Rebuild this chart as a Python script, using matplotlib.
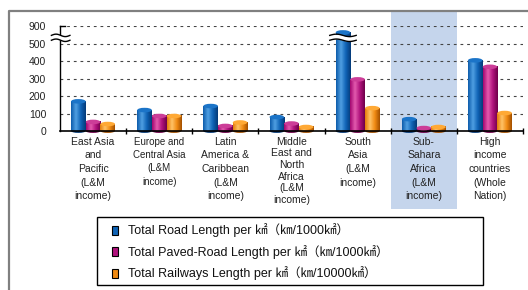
import numpy as np
import matplotlib
matplotlib.use("Agg")
import matplotlib.pyplot as plt
from matplotlib.patches import Rectangle, Ellipse
from matplotlib.colors import LinearSegmentedColormap

regions = ["East Asia\nand\nPacific\n(L&M\nincome)",
           "Europe and\nCentral Asia\n(L&M\nincome)",
           "Latin\nAmerica &\nCaribbean\n(L&M\nincome)",
           "Middle\nEast and\nNorth\nAfrica\n(L&M\nincome)",
           "South\nAsia\n(L&M\nincome)",
           "Sub-\nSahara\nAfrica\n(L&M\nincome)",
           "High\nincome\ncountries\n(Whole\nNation)"]
road = [170, 120, 143, 80, 760, 68, 405]
paved = [52, 86, 29, 43, 296, 17, 368]
rail = [40, 86, 49, 23, 131, 23, 103]
series_labels = ["Total Road Length per ㎢（㎞/1000㎢）",
                 "Total Paved-Road Length per ㎢（㎞/1000㎢）",
                 "Total Railways Length per ㎢（㎞/10000㎢）"]
ytick_vals = [0, 100, 200, 300, 400, 500, 900]

# colours: left, highlight, mid, right(dark), top
palettes = [
    ["#0d5cab", "#4f9fe2", "#0f63b5", "#053a78", "#1b74c8"],
    ["#a3066f", "#e35aae", "#b0127c", "#6e0049", "#cc3d98"],
    ["#e57c0a", "#ffc266", "#f08a12", "#a35000", "#ffa935"],
]

FONT = ["Liberation Sans", "Noto Sans CJK JP", "DejaVu Sans"]
plt.rcParams["font.family"] = FONT


def squash(v):
    # broken axis: 0-500 linear, 500-900 squeezed into one tick step
    return v if v <= 500 else 500 + (v - 500) / 4.0


def cylinder(ax, x, w, h, pal):
    cmap = LinearSegmentedColormap.from_list("c", [pal[0], pal[1], pal[2], pal[3]])
    grad = np.linspace(0, 1, 64).reshape(1, -1)
    ax.imshow(grad, cmap=cmap, extent=(x - w / 2, x + w / 2, 0, h),
              aspect="auto", zorder=2, interpolation="bilinear")
    ax.add_patch(Ellipse((x, 0), w, 22, facecolor=pal[3], edgecolor="none",
                         zorder=1.9, clip_on=False))
    ax.add_patch(Ellipse((x, h), w, 26, facecolor=pal[4], edgecolor="none", zorder=3))


def wave(ax, x0, x1, y0, amp=8):
    xs = np.linspace(x0, x1, 40)
    t = np.linspace(0, 2 * np.pi, 40)
    return xs, y0 + amp * np.sin(t)


fig = plt.figure(figsize=(5.28, 2.9), dpi=100)

bg = fig.add_axes([0, 0, 1, 1])
bg.set_xlim(0, 528)
bg.set_ylim(290, 0)
bg.axis("off")
bg.plot([9, 9, 528], [290, 11, 11], color="#808080", lw=1.6, solid_capstyle="butt")
bg.add_patch(Rectangle((391, 11), 65.7, 198, facecolor="#c5d5ec", edgecolor="none"))

ax = fig.add_axes([60 / 528, (290 - 131) / 290, 463 / 528, (131 - 26.3) / 290])
ax.patch.set_alpha(0)

x = np.arange(len(regions))
w = 0.22
for k, vals in enumerate([road, paved, rail]):
    for i, v in enumerate(vals):
        cylinder(ax, x[i] + (k - 1) * 0.222, w, squash(v), palettes[k])

for yv in ytick_vals[1:]:
    ax.axhline(squash(yv), color="#444444", lw=0.8, ls=(0, (2.5, 3.5)), zorder=0.5)

ax.set_xlim(-0.5, 6.5)
ax.set_ylim(0, 600)
ax.set_yticks([squash(v) for v in ytick_vals])
ax.set_yticklabels([str(v) for v in ytick_vals], fontsize=7.5, color="#222222")
ax.tick_params(axis="y", length=0, pad=10)
ax.set_xticks(np.arange(0.5, 7, 1))
ax.set_xticklabels([])
ax.tick_params(axis="x", direction="inout", length=5, width=1)
for s in ["top", "right"]:
    ax.spines[s].set_visible(False)
ax.spines["left"].set_linewidth(1)
ax.spines["bottom"].set_linewidth(1.2)
ax.plot([-0.5, -0.43], [600, 600], color="black", lw=1, clip_on=False, zorder=5)

# axis break marks on y-axis and on the South Asia road bar
for xa, xb in [(-0.63, -0.35), (4 - 0.222 - 0.2, 4 - 0.222 + 0.2)]:
    xs, y1 = wave(ax, xa, xb, 548, 7)
    _, y2 = wave(ax, xa, xb, 520, 7)
    ax.fill_between(xs, y1, y2, color="white", zorder=6, clip_on=False, lw=0)
    ax.plot(xs, y1, color="black", lw=1, zorder=7, clip_on=False)
    ax.plot(xs, y2, color="black", lw=1, zorder=7, clip_on=False)

spacing = [1.45, 1.42, 1.45, 1.2, 1.45, 1.45, 1.45]
sizes = [7.5, 7.0, 7.5, 7.5, 7.5, 7.5, 7.5]
for i, lab in enumerate(regions):
    ax.text(x[i], -0.055, lab, transform=ax.get_xaxis_transform(), ha="center",
            va="top", fontsize=sizes[i], linespacing=spacing[i], color="#222222")

# legend
bg.add_patch(Rectangle((96.7, 216.7), 386.3, 68.3, fill=False, edgecolor="black", lw=1))
for k, lab in enumerate(series_labels):
    yc = 230 + k * 21.7
    bg.add_patch(Rectangle((111.5, yc - 4.5), 6.5, 9, facecolor=palettes[k][2],
                           edgecolor="black", lw=0.8))
    bg.text(128, yc, lab, va="center", ha="left", fontsize=9, color="#111111",
            family=FONT)

fig.savefig("out.png", dpi=100)
